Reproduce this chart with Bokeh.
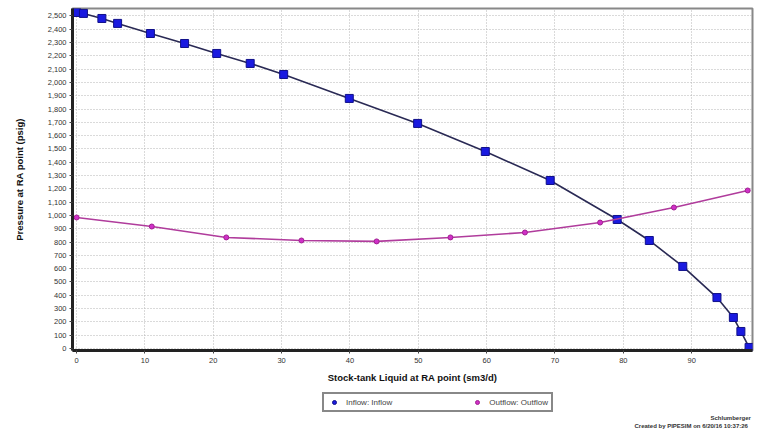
from bokeh.plotting import figure
from bokeh.layouts import column
from bokeh.models import Range1d, NumeralTickFormatter, FixedTicker, Legend, LegendItem, Label
from bokeh.embed import file_html
from bokeh.resources import INLINE

# Inflow curve (stock-tank liquid sm3/d, pressure psig)
inflow_x = [0, 1.0, 3.7, 6.0, 10.8, 15.8, 20.5, 25.4, 30.3, 39.9, 49.9, 59.8, 69.3, 79.1, 83.8, 88.7, 93.7, 96.1, 97.2, 98.4]
inflow_y = [2526, 2519, 2481, 2444, 2368, 2293, 2218, 2143, 2060, 1880, 1692, 1481, 1263, 970, 812, 617, 383, 233, 128, 8]

# Outflow curve
outflow_x = [0, 11.0, 21.9, 32.9, 43.9, 54.7, 65.6, 76.6, 87.4, 98.2]
outflow_y = [985, 917, 835, 812, 805, 835, 872, 947, 1060, 1188]

y_ticks = list(range(0, 2600, 100))
x_ticks = list(range(0, 100, 10))

FONT = "Liberation Sans"

INFLOW_LINE = "#2a2a55"
INFLOW_FILL = "#1a1ae0"
INFLOW_EDGE = "#10108a"
OUT_LINE = "#b03c9c"
OUT_FILL = "#d030c8"
OUT_EDGE = "#a02090"

p = figure(width=757, height=392, output_backend="svg", toolbar_location=None,
           x_range=Range1d(-0.6, 98.9), y_range=Range1d(-15, 2556),
           min_border_left=72, min_border_right=5, min_border_top=8, min_border_bottom=42)

p.background_fill_color = "white"
p.border_fill_color = "white"
p.outline_line_color = "#888888"
p.outline_line_width = 2

p.xaxis.ticker = FixedTicker(ticks=x_ticks)
p.yaxis.ticker = FixedTicker(ticks=y_ticks)
p.yaxis.formatter = NumeralTickFormatter(format="0,0")
for ax in (p.xaxis, p.yaxis):
    ax.axis_line_color = "#222222"
    ax.axis_line_width = 3
    ax.major_tick_line_color = "#444444"
    ax.major_tick_in = 0
    ax.major_tick_out = 3
    ax.minor_tick_line_color = None
    ax.major_label_text_font = FONT
    ax.major_label_text_font_size = "7.5px"
    ax.major_label_text_color = "#333333"
    ax.axis_label_text_font = FONT
    ax.axis_label_text_font_style = "bold"
    ax.axis_label_text_font_size = "9.5px"
    ax.axis_label_text_color = "#111111"
p.xaxis.axis_label = "Stock-tank Liquid at RA point (sm3/d)"
p.yaxis.axis_label = "Pressure at RA point (psig)"
p.xaxis.major_label_standoff = 4
p.yaxis.major_label_standoff = 3
p.xaxis.axis_label_standoff = 6
p.yaxis.axis_label_standoff = 20

p.xgrid.ticker = FixedTicker(ticks=x_ticks)
p.ygrid.ticker = FixedTicker(ticks=y_ticks)
p.grid.grid_line_color = "#b4b4b4"
p.grid.grid_line_dash = "1 2"
p.grid.grid_line_width = 1

p.line(inflow_x, inflow_y, line_color=INFLOW_LINE, line_width=1.6)
p.scatter(inflow_x, inflow_y, marker="square", size=8, fill_color=INFLOW_FILL, line_color=INFLOW_EDGE, line_width=1)

p.line(outflow_x, outflow_y, line_color=OUT_LINE, line_width=1.6)
p.scatter(outflow_x, outflow_y, marker="circle", size=5, fill_color=OUT_FILL, line_color=OUT_EDGE)

# Footer figure holding the legend and the credits (frame aligned with the main plot)
f = figure(width=757, height=40, output_backend="svg", toolbar_location=None,
           x_range=Range1d(0, 1), y_range=Range1d(0, 1),
           min_border_left=72, min_border_right=5, min_border_top=0, min_border_bottom=0)
f.axis.visible = False
f.grid.visible = False
f.outline_line_color = None
f.background_fill_color = "white"
f.border_fill_color = "white"

r1 = f.scatter([-10], [-10], marker="circle", size=8, fill_color=INFLOW_FILL, line_color=INFLOW_EDGE)
r2 = f.scatter([-10], [-10], marker="circle", size=5, fill_color=OUT_FILL, line_color=OUT_EDGE)

legend = Legend(items=[LegendItem(label="Inflow: Inflow", renderers=[r1]),
                       LegendItem(label="Outflow: Outflow", renderers=[r2])],
                orientation="horizontal", location=(250, 20),
                border_line_color="#111111", border_line_width=2,
                background_fill_color="white", background_fill_alpha=1,
                label_text_font=FONT, label_text_font_size="8px",
                label_height=10, glyph_height=10, glyph_width=14,
                padding=3, spacing=78, margin=0)
f.add_layout(legend, "center")

f.add_layout(Label(x=638, y=12, x_units="screen", y_units="screen", text="Schlumberger",
                   text_font=FONT, text_font_size="6px", text_font_style="bold", text_color="#333333"))
f.add_layout(Label(x=562, y=4, x_units="screen", y_units="screen",
                   text="Created by PIPESIM on 6/20/16 10:37:26",
                   text_font=FONT, text_font_size="6px", text_font_style="bold", text_color="#333333"))

layout = column(p, f, spacing=0)
open("out.html", "w").write(file_html(layout, INLINE))
